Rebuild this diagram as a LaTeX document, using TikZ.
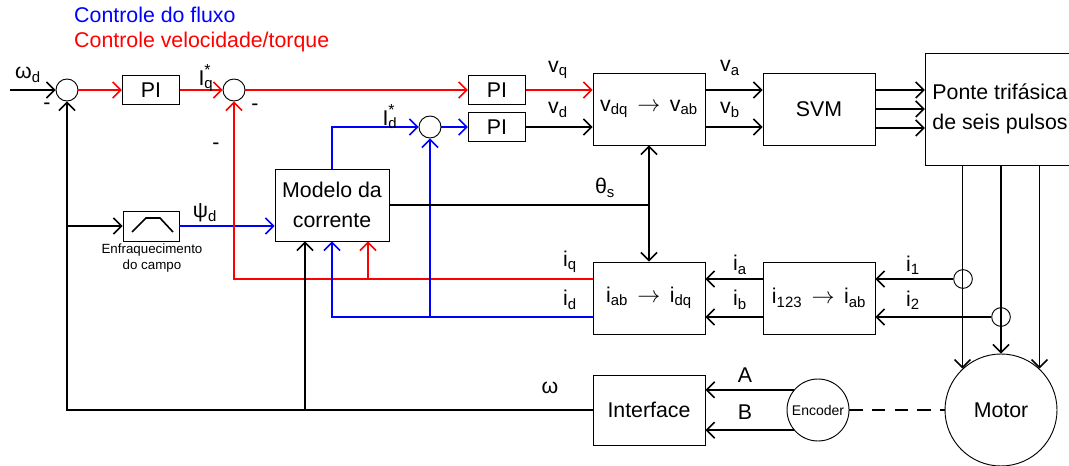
\documentclass[tikz,border=0pt]{standalone}
\usepackage{fontspec}
\setmainfont{Liberation Sans}
\usetikzlibrary{positioning}
\usetikzlibrary{arrows.meta}

\newcommand{\convarrow}{\hspace{7pt}$\rightarrow$\hspace{7pt}}

\begin{document}
\begin{tikzpicture}[
        x = 0.75pt, y = -0.75pt, % one unit = one pixel, y downwards
        > = {Straight Barb[length=6pt,width=12pt]}, % arrow head style
        line width = 1.2pt, % line style
        font = \fontsize{16}{22}\selectfont,
        blockbox/.style = {draw, line width=0.7pt, minimum width=84pt, minimum height=54pt, align=center, inner sep=2pt},
        pibox/.style = {draw, line width=0.7pt, minimum width=43pt, minimum height=22pt, inner sep=0pt},
        sumnode/.style = {draw, circle, line width=0.7pt, minimum size=16.5pt, inner sep=0pt},
        sensor/.style = {draw, circle, line width=0.7pt, minimum size=14pt, inner sep=0pt}
        ]
  \useasboundingbox (0,0) rectangle (1069,466);

  \node[blue, anchor=west] (titflux) at (69,15) {Controle do fluxo};
  \node[red, anchor=west] (titvel) at (69,42) {Controle velocidade/torque};

  \node[sumnode] (sum1) at (67,90) {};
  \node[pibox] (pi1) at (151,90) {PI};
  \node[sumnode] (sum2) at (234,90) {};
  \node[pibox] (pi2) at (497,90) {PI};
  \node[sumnode] (sum3) at (430,127) {};
  \node[pibox] (pi3) at (497,127) {PI};
  \node[blockbox] (vdq) at (649,109) {v\textsubscript{dq}\convarrow v\textsubscript{ab}};
  \node[blockbox] (svm) at (819,109) {SVM};
  \node[blockbox, minimum width=112pt, minimum height=84pt] (ponte) at (1000,109) {Ponte trifásica\\de seis pulsos};
  \node[blockbox, minimum width=85.5pt] (modelo) at (332,205) {Modelo da\\corrente};
  \node[pibox, minimum width=42pt, minimum height=22.5pt] (fw) at (151,226) {};
  \node[font=\fontsize{10}{12}\selectfont, align=center] (fwtext) at (152,258) {Enfraquecimento\\do campo};
  \node[blockbox] (iab) at (649,298) {i\textsubscript{ab}\convarrow i\textsubscript{dq}};
  \node[blockbox] (i123) at (819,298) {i\textsubscript{123}\convarrow i\textsubscript{ab}};
  \node[blockbox, minimum height=52.5pt] (iface) at (649,410) {Interface};
  \node[draw, circle, line width=0.7pt, minimum size=46.5pt, inner sep=0pt, font=\fontsize{10.5}{12}\selectfont] (enc) at (818,410) {Encoder};
  \node[draw, circle, line width=0.7pt, minimum size=84pt, inner sep=0pt] (motor) at (1001,410) {Motor};
  \node[sensor] (sens1) at (963,279) {};
  \node[sensor] (sens2) at (1001,317) {};

  \coordinate (win) at (10,90);
  \coordinate (fwtap) at (67,226);
  \coordinate (wtap) at (305,410);
  \coordinate (iqtap) at (368,279);
  \coordinate (thtap) at (649,205);

  % field weakening curve
  \draw[shift={(fw.center)}] (-19,6) -- (-5,-8) -- (9,-8) -- (22,6);

  % velocidade / torque
  \draw[->] (win) -- (sum1);
  \draw[red,->] (sum1) -- (pi1);
  \draw[red,->] (pi1) -- (sum2);
  \draw[red,->] (sum2) -- (pi2);
  \draw[red,->] (pi2) -- (pi2 -| vdq.west);
  % fluxo
  \draw[->] (fwtap) -- (fw);
  \draw[blue,->] (fw) -- (fw -| modelo.west);
  \draw[blue,->] (modelo.north) |- (sum3);
  \draw[blue,->] (sum3) -- (pi3);
  \draw[->] (pi3) -- (pi3 -| vdq.west);

  \draw[->] (vdq.east |- pi2) -- (svm.west |- pi2);
  \draw[->] (vdq.east |- pi3) -- (svm.west |- pi3);
  \foreach \dy in {14.25pt,0pt,-14.25pt}
    \draw[->] ([yshift=\dy]svm.east) -- ([yshift=\dy]svm.east -| ponte.west);
  \foreach \a in {133,90,47}
    \draw[->] (motor.\a |- ponte.south) -- (motor.\a);

  % medicao de corrente
  \draw[->] (sens1) -- (sens1 -| i123.east);
  \draw[->] (sens2) -- (sens2 -| i123.east);
  \draw[->] (i123.west |- sens1) -- (iab.east |- sens1);
  \draw[->] (i123.west |- sens2) -- (iab.east |- sens2);
  \draw[red,->] (iab.west |- sens1) -| (sum2);
  \draw[red,->] (iqtap) -- (iqtap |- modelo.south);
  \draw[blue,->] (iab.west |- sens2) -| (modelo.south);
  \draw[blue,->] (sum3 |- sens2) -- (sum3);

  % velocidade medida
  \draw[->] (iface) -| (sum1);
  \draw[->] (wtap) -- (wtap |- modelo.south);
  \draw (modelo.east |- thtap) -- (thtap);
  \draw[->] (thtap) -- (vdq);
  \draw[->] (thtap) -- (iab);
  \draw[->] (enc.140) -- (enc.140 -| iface.east);
  \draw[->] (enc.220) -- (enc.220 -| iface.east);
  \draw[dashed, dash pattern=on 10pt off 7pt] (enc) -- (motor);

  % labels
  \node (wdlab) at (28,75) {ω\textsubscript{d}};
  \node (m1) at (47,106) {-};
  \node (iqref) at (206,78) {I\rlap{\raisebox{0.45em}{\fontsize{12}{12}\selectfont *}}\textsubscript{q}};
  \node (m2) at (255,107) {-};
  \node (m3) at (216,146) {-};
  \node (idref) at (390,117) {I\rlap{\raisebox{0.45em}{\fontsize{12}{12}\selectfont *}}\textsubscript{d}};
  \node (vqlab) at (558,70) {v\textsubscript{q}};
  \node (vdlab) at (558,110) {v\textsubscript{d}};
  \node (valab) at (730,68) {v\textsubscript{a}};
  \node (vblab) at (730,110) {v\textsubscript{b}};
  \node (psilab) at (205,213) {ψ\textsubscript{d}};
  \node (thlab) at (605,188) {θ\textsubscript{s}};
  \node (iqlab) at (570,262) {i\textsubscript{q}};
  \node (idlab) at (570,300) {i\textsubscript{d}};
  \node (ialab) at (740,265) {i\textsubscript{a}};
  \node (iblab) at (740,300) {i\textsubscript{b}};
  \node (i1lab) at (913,265) {i\textsubscript{1}};
  \node (i2lab) at (913,300) {i\textsubscript{2}};
  \node (wlab) at (550,388) {ω};
  \node (alab) at (745,375) {A};
  \node (blab) at (745,412) {B};

\end{tikzpicture}
\end{document}
